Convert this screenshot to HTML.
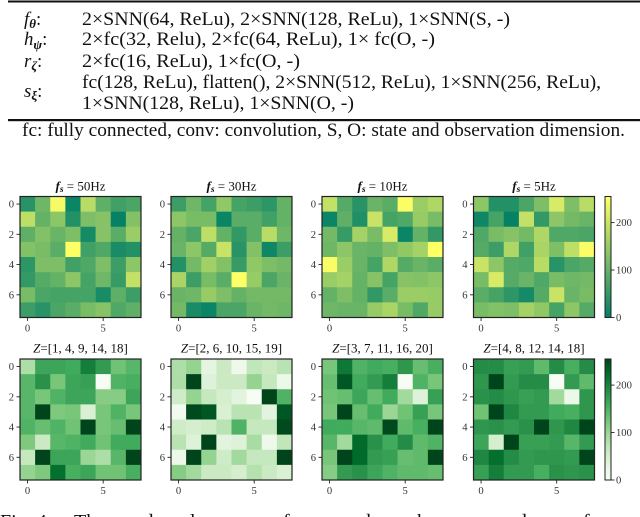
<!DOCTYPE html>
<html lang="en">
<head>
<meta charset="utf-8">
<title>Network table and heatmaps</title>
<style>
html,body{margin:0;padding:0;background:#fff;}
#stage{display:block;width:640px;height:517px;overflow:hidden;}
text{font-family:"Liberation Serif",serif;}
.t{font-size:18.8px;fill:#111;}
.tick{font-size:10.6px;fill:#333;}
.title{font-size:13px;fill:#111;}
.cap{font-size:20px;fill:#111;}
</style>
</head>
<body>
<svg id="stage" xmlns="http://www.w3.org/2000/svg" width="640" height="517" viewBox="0 0 640 517">
  <g id="table">
    <rect x="8" y="0.5" width="632" height="2" fill="#111"/>
    <text class="t" x="24" y="25"><tspan font-style="italic">f</tspan><tspan font-size="13" font-weight="bold" font-style="italic" dy="3">θ</tspan><tspan dy="-3">:</tspan></text>
    <text class="t" x="82" y="25" textLength="428" lengthAdjust="spacingAndGlyphs">2×SNN(64, ReLu), 2×SNN(128, ReLu), 1×SNN(S, -)</text>
    <text class="t" x="24" y="45"><tspan font-style="italic">h</tspan><tspan font-size="13" font-weight="bold" font-style="italic" dy="4">ψ</tspan><tspan dy="-4">:</tspan></text>
    <text class="t" x="82" y="45" textLength="353" lengthAdjust="spacingAndGlyphs">2×fc(32, Relu), 2×fc(64, ReLu), 1× fc(O, -)</text>
    <text class="t" x="24" y="67"><tspan font-style="italic">r</tspan><tspan font-size="13" font-weight="bold" font-style="italic" dy="3">ζ</tspan><tspan dy="-3">:</tspan></text>
    <text class="t" x="82" y="67" textLength="218" lengthAdjust="spacingAndGlyphs">2×fc(16, ReLu), 1×fc(O, -)</text>
    <text class="t" x="82" y="88" textLength="519" lengthAdjust="spacingAndGlyphs">fc(128, ReLu), flatten(), 2×SNN(512, ReLu), 1×SNN(256, ReLu),</text>
    <text class="t" x="24" y="97"><tspan font-style="italic">s</tspan><tspan font-size="13" font-weight="bold" font-style="italic" dy="3">ξ</tspan><tspan dy="-3">:</tspan></text>
    <text class="t" x="82" y="109" textLength="272" lengthAdjust="spacingAndGlyphs">1×SNN(128, ReLu), 1×SNN(O, -)</text>
    <rect x="8" y="119" width="632" height="2.2" fill="#111"/>
    <text class="t" x="22" y="136" textLength="603" lengthAdjust="spacingAndGlyphs">fc: fully connected, conv: convolution, S, O: state and observation dimension.</text>
  </g>
  <g id="charts"></g>
  <g>
    <text class="cap" x="0" y="528">Fig. 4:</text>
    <text class="cap" x="74" y="528">The</text>
    <text class="cap" x="118" y="528">mod</text>
    <text class="cap" x="190" y="528">l</text>
    <text class="cap" x="283" y="528">f</text>
    <text class="cap" x="352" y="528">ad</text>
    <text class="cap" x="417" y="528">h</text>
    <text class="cap" x="508" y="528">ad</text>
    <text class="cap" x="583" y="528">f</text>
  </g>
</svg>
<script>
const tickLabelsY = [0, 2, 4, 6];
const tickLabelsX = [0, 5];
const colorbarTicks = [0, 100, 200];
const titlesTop = ["50Hz", "30Hz", "10Hz", "5Hz"];
const titlesBottom = ["[1, 4, 9, 14, 18]", "[2, 6, 10, 15, 19]", "[3, 7, 11, 16, 20]", "[4, 8, 12, 14, 18]"];

const fs50 = [
  [40,110,245,10,185,95,65,75],[190,100,140,35,125,135,5,130],[95,130,105,125,20,135,90,155],[130,120,90,255,65,80,25,35],
  [45,125,125,65,80,125,60,140],[50,85,100,140,70,110,55,195],[120,75,70,70,70,25,95,60],[60,40,75,90,120,135,80,95]];
const fs30 = [
  [60,110,70,145,70,60,45,100],[140,120,120,10,90,90,65,100],[100,75,190,100,50,90,185,110],[105,140,85,200,40,130,15,60],
  [35,115,160,130,55,145,125,115],[170,60,120,90,255,150,75,105],[105,110,150,125,100,115,115,115],[115,25,10,75,75,105,115,110]];
const fs10 = [
  [195,85,40,105,90,250,155,175],[10,95,30,200,70,80,150,120],[115,55,165,120,215,10,100,50],[110,140,105,100,125,145,165,255],
  [250,155,105,70,175,85,105,90],[155,165,100,135,70,135,130,140],[100,125,100,50,90,155,155,150],[110,105,105,150,170,120,80,150]];
const fs5 = [
  [140,35,35,75,125,215,125,185],[15,70,5,195,50,140,115,105],[80,120,135,115,175,80,80,75],[85,60,175,65,170,125,190,250],
  [200,140,85,80,185,40,75,85],[120,215,85,105,80,120,110,115],[90,70,45,20,85,200,105,120],[120,130,125,165,145,70,140,85]];
const z1 = [
  [85,165,165,160,205,175,130,145],[145,185,125,165,170,0,150,155],[145,125,150,165,165,115,115,165],[145,255,120,125,45,125,150,125],
  [150,135,150,130,255,125,135,255],[120,60,145,150,160,130,160,160],[65,255,165,165,100,85,145,255],[105,120,220,155,165,130,130,155]];
const z2 = [
  [85,105,30,60,15,70,60,75],[85,255,40,60,60,105,65,20],[55,105,65,50,35,0,255,150],[10,252,240,45,75,75,35,240],
  [55,50,55,75,150,65,65,250],[75,40,255,35,40,90,15,70],[20,255,105,55,95,65,65,255],[115,95,60,60,50,80,60,45]];
const z3 = [
  [125,210,150,160,155,180,135,155],[135,240,160,175,205,0,150,125],[130,135,165,135,160,95,40,170],[125,255,135,160,100,130,170,125],
  [160,160,145,140,250,140,155,255],[145,95,225,185,160,190,140,150],[125,255,225,175,170,135,140,255],[115,175,185,165,150,140,140,135]];
const z4 = [
  [190,190,170,175,140,190,155,190],[180,255,175,190,190,0,175,140],[185,190,180,170,175,95,20,180],[130,255,195,175,175,160,155,180],
  [180,185,175,185,255,180,195,255],[165,50,255,170,170,175,145,175],[195,220,190,175,180,180,175,255],[170,205,175,175,155,185,180,185]];

const topSeries = [fs50, fs30, fs10, fs5];
const bottomSeries = [z1, z2, z3, z4];

const NS = "http://www.w3.org/2000/svg";
const VMAX = 255;
const greenStops = [[247,252,245],[229,245,224],[199,233,192],[161,217,155],[116,196,118],[65,171,93],[35,139,69],[0,109,44],[0,68,27]];

function summer(v) {
  const t = Math.max(0, Math.min(1, v / VMAX));
  return "rgb(" + Math.round(255 * t) + "," + Math.round(255 * (0.5 + t / 2)) + ",102)";
}
function greens(v) {
  const t = Math.max(0, Math.min(1, v / VMAX)) * (greenStops.length - 1);
  const i = Math.min(greenStops.length - 2, Math.floor(t));
  const f = t - i;
  const a = greenStops[i];
  const b = greenStops[i + 1];
  return "rgb(" + a.map(function (c, k) { return Math.round(c + (b[k] - c) * f); }).join(",") + ")";
}
function mk(parent, tag, attrs, text) {
  const el = document.createElementNS(NS, tag);
  Object.keys(attrs).forEach(function (k) { el.setAttribute(k, attrs[k]); });
  if (text !== undefined) el.textContent = text;
  parent.appendChild(el);
  return el;
}

const root = document.getElementById("charts");
const panelX = [20, 171, 322, 473.5];
const panelSize = 121;
const rowTop = [196.5, 359];

function xScale(col, x0) { return x0 + (col + 0.5) * panelSize / 8; }
function yScale(row, y0) { return y0 + (row + 0.5) * panelSize / 8; }

function drawPanel(values, x0, y0, cmap, name, titleBuilder) {
  const g = mk(root, "g", {});
  
  
  const cw = panelSize / 8;
  values.forEach(function (rowVals, r) {
    rowVals.forEach(function (v, c) {
      const cell = mk(g, "rect", {
        x: xScale(c, x0) - cw / 2, y: yScale(r, y0) - cw / 2,
        width: cw + 0.3, height: cw + 0.3, fill: cmap(v)
      });
      
      
    });
  });
  const frame = mk(g, "rect", { x: x0, y: y0, width: panelSize, height: panelSize, fill: "none", stroke: "#222", "stroke-width": 1.2 });
  
  
  tickLabelsY.forEach(function (t) {
    const y = yScale(t, y0);
    const tm = mk(g, "line", { x1: x0 - 3.5, x2: x0, y1: y, y2: y, stroke: "#222", "stroke-width": 0.9 });
    
    
    const lb = mk(g, "text", { x: x0 - 6, y: y + 3.5, "text-anchor": "end", "class": "tick" }, t);
    
    
  });
  tickLabelsX.forEach(function (t) {
    const x = xScale(t, x0);
    const tm = mk(g, "line", { x1: x, x2: x, y1: y0 + panelSize, y2: y0 + panelSize + 3.5, stroke: "#222", "stroke-width": 0.9 });
    
    
    const lb = mk(g, "text", { x: x, y: y0 + panelSize + 14, "text-anchor": "middle", "class": "tick" }, t);
    
    
  });
  titleBuilder(g, x0 + panelSize / 2, y0 - 7);
}

function topTitle(label) {
  return function (g, cx, y) {
    const t = mk(g, "text", { x: cx, y: y + 1, "text-anchor": "middle", "class": "title" });
    
    
    mk(t, "tspan", { "font-style": "italic", "font-weight": "bold" }, "f");
    mk(t, "tspan", { "font-style": "italic", "font-weight": "bold", "font-size": 9.5, dy: 1.5 }, "s");
    mk(t, "tspan", { dy: -1.5 }, " = " + label);
  };
}
function bottomTitle(label) {
  return function (g, cx, y) {
    const t = mk(g, "text", { x: cx, y: y + 0.5, "text-anchor": "middle", "class": "title" });
    
    
    mk(t, "tspan", { "font-style": "italic" }, "Z");
    mk(t, "tspan", {}, "=" + label);
  };
}

topSeries.forEach(function (vals, i) {
  drawPanel(vals, panelX[i], rowTop[0], summer, "heatmap-sampling-" + titlesTop[i], topTitle(titlesTop[i]));
});
bottomSeries.forEach(function (vals, i) {
  drawPanel(vals, panelX[i], rowTop[1], greens, "heatmap-channels-" + (i + 1), bottomTitle(titlesBottom[i]));
});

function drawColorbar(y0, cmap, name) {
  const g = mk(root, "g", {});
  
  
  const x0 = 605;
  const w = 6;
  const steps = 60;
  for (let i = 0; i < steps; i++) {
    const h = panelSize / steps;
    const s = mk(g, "rect", { x: x0, y: y0 + panelSize - (i + 1) * h, width: w, height: h + 0.3, fill: cmap((i + 0.5) / steps * VMAX) });
    
    
  }
  const f = mk(g, "rect", { x: x0, y: y0, width: w, height: panelSize, fill: "none", stroke: "#222", "stroke-width": 1 });
  
  
  colorbarTicks.forEach(function (t) {
    const y = y0 + panelSize - t / VMAX * panelSize;
    const tm = mk(g, "line", { x1: x0 + w, x2: x0 + w + 3.5, y1: y, y2: y, stroke: "#222", "stroke-width": 0.9 });
    
    
    const lb = mk(g, "text", { x: x0 + w + 5, y: y + 3.5, "class": "tick" }, t);
    
    
  });
}
drawColorbar(rowTop[0], summer, "colorbar-summer");
drawColorbar(rowTop[1], greens, "colorbar-greens");
</script>
</body>
</html>
